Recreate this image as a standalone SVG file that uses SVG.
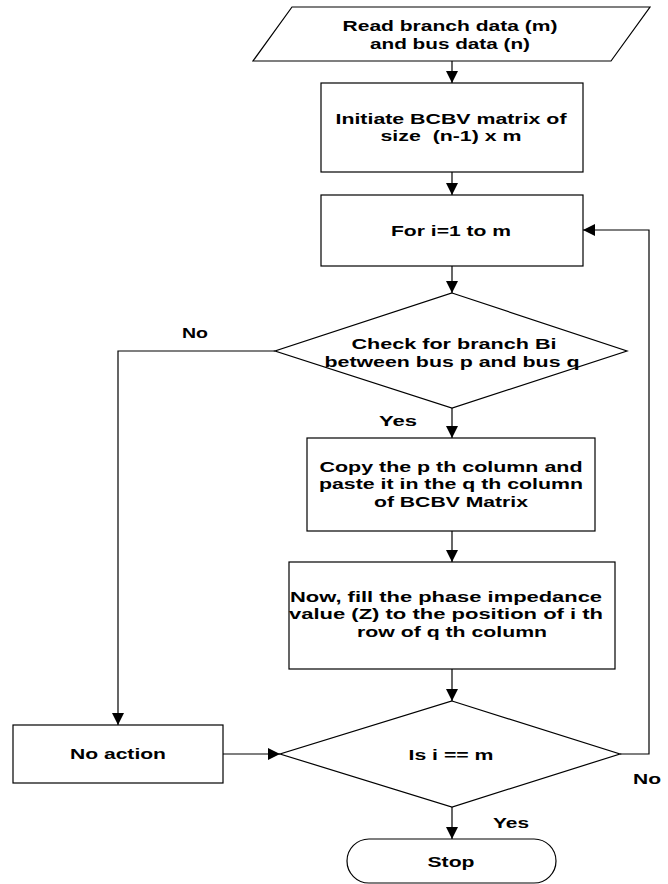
<svg xmlns="http://www.w3.org/2000/svg" width="668" height="884" viewBox="0 0 668 884">
  <style>
    .shape { fill: #ffffff; stroke: #000000; stroke-width: 1.2; }
    .wire { fill: none; stroke: #000000; stroke-width: 1.2; }
    .lbl { font-family: "Liberation Sans", Arial, sans-serif; font-size: 15.5px; font-weight: bold; fill: #000000; text-anchor: middle; white-space: pre; }
    .lbl-start { text-anchor: start; }
  </style>
  <defs>
    <marker id="arrow" viewBox="0 0 12 12" refX="12" refY="6" markerWidth="12" markerHeight="12" markerUnits="userSpaceOnUse" orient="auto">
      <path d="M0,0 L12,6 L0,12 Z" fill="#000000"/>
    </marker>
  </defs>

  <rect width="668" height="884" fill="#ffffff"/>

  <!-- connectors -->
  <g id="connectors">
    <line class="wire" x1="452" y1="61" x2="452" y2="83" marker-end="url(#arrow)"/>
    <line class="wire" x1="452" y1="172" x2="452" y2="195" marker-end="url(#arrow)"/>
    <line class="wire" x1="452" y1="266" x2="452" y2="293" marker-end="url(#arrow)"/>
    <polyline class="wire" points="275,351 118,351 118,725" marker-end="url(#arrow)"/>
    <line class="wire" x1="452" y1="408" x2="452" y2="438" marker-end="url(#arrow)"/>
    <line class="wire" x1="452" y1="531" x2="452" y2="562" marker-end="url(#arrow)"/>
    <line class="wire" x1="452" y1="669" x2="452" y2="701" marker-end="url(#arrow)"/>
    <line class="wire" x1="223" y1="754" x2="280" y2="754" marker-end="url(#arrow)"/>
    <polyline class="wire" points="620,754 649,754 649,230 583,230" marker-end="url(#arrow)"/>
    <line class="wire" x1="452" y1="807" x2="452" y2="839" marker-end="url(#arrow)"/>

    <text class="lbl" x="195" y="337.5" textLength="26" lengthAdjust="spacingAndGlyphs">No</text>
    <text class="lbl" x="398" y="425.5" textLength="38" lengthAdjust="spacingAndGlyphs">Yes</text>
    <text class="lbl lbl-start" x="633" y="783.5" textLength="28" lengthAdjust="spacingAndGlyphs">No</text>
    <text class="lbl" x="511" y="827.5" textLength="36" lengthAdjust="spacingAndGlyphs">Yes</text>
  </g>

  <!-- input: read data -->
  <g id="read-data">
    <polygon class="shape" points="292,7 650,7 611,61 253,61"/>
    <text class="lbl" x="450" y="31" textLength="215" lengthAdjust="spacingAndGlyphs">Read branch data (m)</text>
    <text class="lbl" x="450" y="49" textLength="160" lengthAdjust="spacingAndGlyphs">and bus data (n)</text>
  </g>

  <!-- initialise matrix -->
  <g id="init-matrix">
    <rect class="shape" x="321" y="83" width="262" height="89"/>
    <text class="lbl" x="451" y="124" textLength="231" lengthAdjust="spacingAndGlyphs">Initiate BCBV matrix of</text>
    <text class="lbl" x="451" y="141" textLength="141" lengthAdjust="spacingAndGlyphs">size  (n-1) x m</text>
  </g>

  <!-- loop header -->
  <g id="for-loop">
    <rect class="shape" x="321" y="195" width="262" height="71"/>
    <text class="lbl" x="451" y="235.5" textLength="120" lengthAdjust="spacingAndGlyphs">For i=1 to m</text>
  </g>

  <!-- branch check -->
  <g id="check-branch">
    <polygon class="shape" points="452,293 627,351 452,408 275,351"/>
    <text class="lbl" x="454" y="349" textLength="205" lengthAdjust="spacingAndGlyphs">Check for branch Bi</text>
    <text class="lbl" x="452" y="367" textLength="255" lengthAdjust="spacingAndGlyphs">between bus p and bus q</text>
  </g>

  <!-- copy column -->
  <g id="copy-column">
    <rect class="shape" x="307" y="438" width="288" height="93"/>
    <text class="lbl" x="451" y="472" textLength="263" lengthAdjust="spacingAndGlyphs">Copy the p th column and</text>
    <text class="lbl" x="451" y="489" textLength="264" lengthAdjust="spacingAndGlyphs">paste it in the q th column</text>
    <text class="lbl" x="451" y="507" textLength="154" lengthAdjust="spacingAndGlyphs">of BCBV Matrix</text>
  </g>

  <!-- fill impedance -->
  <g id="fill-impedance">
    <rect class="shape" x="289" y="562" width="326" height="107"/>
    <text class="lbl" x="446" y="602" textLength="312" lengthAdjust="spacingAndGlyphs">Now, fill the phase impedance</text>
    <text class="lbl" x="446" y="619" textLength="314" lengthAdjust="spacingAndGlyphs">value (Z) to the position of i th</text>
    <text class="lbl" x="452" y="637" textLength="190" lengthAdjust="spacingAndGlyphs">row of q th column</text>
  </g>

  <!-- no action -->
  <g id="no-action">
    <rect class="shape" x="13" y="725" width="210" height="58"/>
    <text class="lbl" x="118" y="758.5" textLength="96" lengthAdjust="spacingAndGlyphs">No action</text>
  </g>

  <!-- loop end check -->
  <g id="check-end">
    <polygon class="shape" points="452,701 620,754 452,807 280,754"/>
    <text class="lbl" x="451" y="759.5" textLength="85" lengthAdjust="spacingAndGlyphs">Is i == m</text>
  </g>

  <!-- terminator -->
  <g id="stop">
    <rect class="shape" x="347" y="839" width="209" height="44" rx="22" ry="22"/>
    <text class="lbl" x="451" y="867" textLength="47" lengthAdjust="spacingAndGlyphs">Stop</text>
  </g>
</svg>
